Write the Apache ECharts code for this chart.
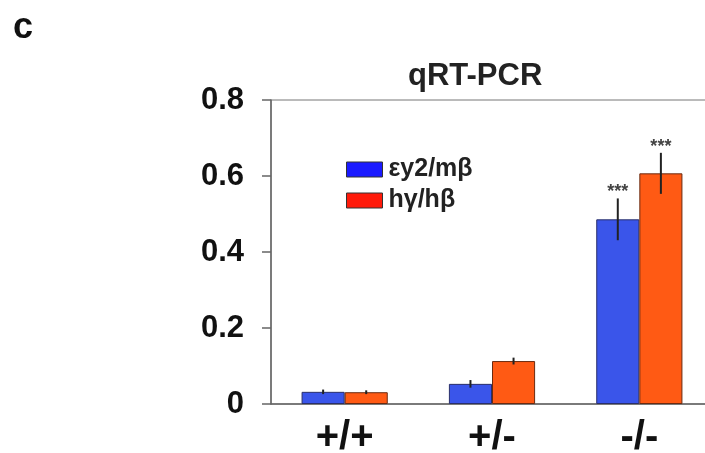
<!DOCTYPE html>
<html>
<head>
<meta charset="utf-8">
<script src="https://cdn.jsdelivr.net/npm/echarts@6/dist/echarts.min.js"></script>
<style>
  html, body { margin: 0; padding: 0; background: #fff; }
  #chart { width: 705px; height: 453px; }
</style>
</head>
<body>
<div id="chart"></div>
<script>
const genotypes = ["+/+", "+/-", "-/-"];
const seriesNames = ["εy2/mβ", "hγ/hβ"];
const embryonicRatio = [0.032, 0.053, 0.486];
const embryonicError = [0.006, 0.010, 0.055];
const fetalRatio = [0.031, 0.113, 0.607];
const fetalError = [0.005, 0.009, 0.054];
const significance = ["", "", "***"];
const yTicks = [0, 0.2, 0.4, 0.6, 0.8];

const font = "'Liberation Sans', Arial, sans-serif";
const gapRatio = 0.415;
const barColors = ["#3a55ea", "#ff5a14"];
const legendColors = ["#1a1aff", "#ff1a0a"];

const chart = echarts.init(document.getElementById("chart"));

function errorSeries(idx, values, errors) {
  return {
    type: "custom",
    name: seriesNames[idx] + " err",
    z: 5,
    data: values.map((v, i) => [i, v, errors[i]]),
    renderItem: (params, api) => {
      const cat = api.value(0);
      const val = api.value(1);
      const err = api.value(2);
      const band = api.size([1, 0])[0];
      const barW = (band * (1 - gapRatio)) / 2;
      const off = idx === 0 ? -barW / 2 : barW / 2;
      const top = api.coord([cat, val + err]);
      const bot = api.coord([cat, val - err]);
      const x = top[0] + off;
      const children = [
        {
          type: "line",
          shape: { x1: x, y1: top[1], x2: x, y2: bot[1] },
          style: { stroke: "#222", lineWidth: 2 },
        },
      ];
      const star = significance[cat];
      if (star) {
        children.push({
          type: "text",
          style: {
            text: star,
            x: x,
            y: top[1] - 6,
            align: "center",
            verticalAlign: "middle",
            font: "bold 18px " + font,
            fill: "#444",
          },
        });
      }
      return { type: "group", children };
    },
  };
}

function legendItem(i, top) {
  return {
    orient: "vertical",
    left: 346,
    top: top,
    padding: 0,
    itemWidth: 36,
    itemHeight: 15,
    icon: "rect",
    textStyle: { fontFamily: font, fontWeight: "bold", fontSize: 25, color: "#222", padding: [0, 0, 0, 1] },
    data: [{ name: seriesNames[i], itemStyle: { color: legendColors[i], borderColor: "#333", borderWidth: 1 } }],
  };
}

const option = {
  animation: false,
  backgroundColor: "#fff",
  title: [
    {
      text: "qRT-PCR",
      left: 403,
      top: 56,
      textStyle: { fontFamily: font, fontWeight: "bold", fontSize: 31, color: "#222" },
    },
    {
      text: "c",
      left: 8,
      top: 5,
      textStyle: { fontFamily: font, fontWeight: "bold", fontSize: 36, color: "#111" },
    },
  ],
  legend: [legendItem(0, 157), legendItem(1, 188)],
  grid: {
    left: 271,
    top: 100,
    width: 442,
    height: 304,
    outerBoundsMode: "none",
    containLabel: false,
    show: true,
    borderColor: "#777",
    borderWidth: 1,
  },
  xAxis: {
    type: "category",
    data: genotypes,
    axisTick: { show: false },
    axisLine: { lineStyle: { color: "#666", width: 1.5 } },
    axisLabel: { fontFamily: font, fontWeight: "bold", fontSize: 40, color: "#111", margin: 14 },
  },
  yAxis: {
    type: "value",
    min: yTicks[0],
    max: yTicks[yTicks.length - 1],
    interval: 0.2,
    splitLine: { show: false },
    axisLine: { show: true, lineStyle: { color: "#666", width: 1.5 } },
    axisTick: { show: true, length: 9, lineStyle: { color: "#666", width: 1.5 } },
    axisLabel: { fontFamily: font, fontWeight: "bold", fontSize: 31, color: "#111", margin: 27 },
  },
  series: [
    {
      name: seriesNames[0],
      type: "bar",
      data: embryonicRatio,
      barGap: "0%",
      barCategoryGap: gapRatio * 100 + "%",
      itemStyle: { color: barColors[0], borderColor: "#2a2f6a", borderWidth: 1 },
    },
    {
      name: seriesNames[1],
      type: "bar",
      data: fetalRatio,
      barGap: "0%",
      barCategoryGap: gapRatio * 100 + "%",
      itemStyle: { color: barColors[1], borderColor: "#6a2a10", borderWidth: 1 },
    },
    errorSeries(0, embryonicRatio, embryonicError),
    errorSeries(1, fetalRatio, fetalError),
  ],
};

chart.setOption(option);
</script>
</body>
</html>
